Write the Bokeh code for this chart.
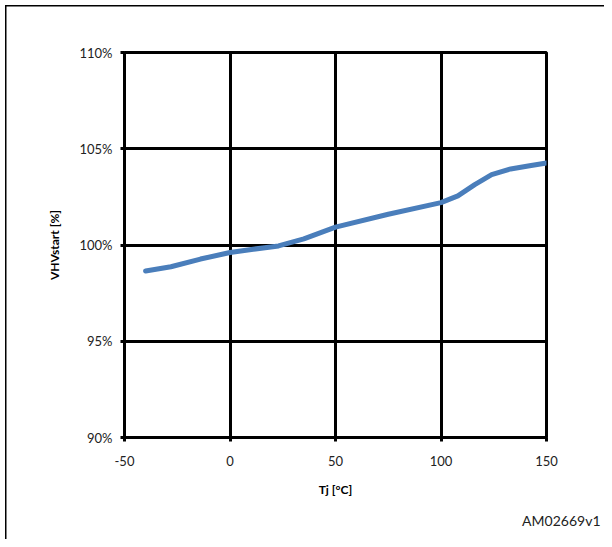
from bokeh.plotting import figure
from bokeh.models import Range1d, FixedTicker, PrintfTickFormatter, Title
from bokeh.embed import file_html
from bokeh.resources import INLINE

# Data
tj = [-40, -28, -14, 0, 11, 23, 35, 50, 75, 100, 108, 116, 124, 133, 142, 150]
vhvstart = [98.65, 98.87, 99.27, 99.61, 99.78, 99.95, 100.32, 100.93, 101.6,
            102.2, 102.55, 103.14, 103.66, 103.95, 104.12, 104.26]
x_ticks = [-50, 0, 50, 100, 150]
y_ticks = [90, 95, 100, 105, 110]

FONT = "Lato"

p = figure(width=604, height=539, output_backend="svg", toolbar_location=None,
           x_range=Range1d(-50, 150), y_range=Range1d(90, 110),
           min_border_left=124, min_border_top=52, min_border_right=58,
           min_border_bottom=102)

# outer frame of the picture (top and left edges visible), drawn behind a transparent border
p.border_fill_color = None
p.background_fill_color = "white"
p.styles = {"background": "linear-gradient(#000,#000) 5px 5px / 1.5px 100% no-repeat, "
                          "linear-gradient(#000,#000) 5px 5px / 100% 1.5px no-repeat, white"}

p.line(tj, vhvstart, line_color="#4A7EBB", line_width=5, line_cap="round",
       line_join="round")

p.outline_line_color = "black"
p.outline_line_width = 3

for g in (p.xgrid, p.ygrid):
    g.grid_line_color = "black"
    g.grid_line_width = 3
p.xgrid.ticker = FixedTicker(ticks=x_ticks)
p.ygrid.ticker = FixedTicker(ticks=y_ticks)

p.xaxis.ticker = FixedTicker(ticks=x_ticks)
p.yaxis.ticker = FixedTicker(ticks=y_ticks)
p.xaxis.formatter = PrintfTickFormatter(format="%d")
p.yaxis.formatter = PrintfTickFormatter(format="%d%%")

for ax in (p.xaxis, p.yaxis):
    ax.axis_line_color = "black"
    ax.axis_line_width = 3
    ax.major_tick_line_color = "black"
    ax.major_tick_line_width = 3
    ax.major_tick_out = 4
    ax.major_tick_in = 0
    ax.minor_tick_line_color = None
    ax.major_label_text_font = FONT
    ax.major_label_text_font_size = "13px"
    ax.major_label_text_color = "#222222"
    ax.axis_label_text_font = FONT
    ax.axis_label_text_font_size = "12px"
    ax.axis_label_text_font_style = "bold"
    ax.axis_label_text_color = "black"

p.xaxis.axis_label = "Tj [°C]"
p.yaxis.axis_label = "VHVstart [%]"
p.xaxis.major_label_standoff = 14
p.yaxis.major_label_standoff = 8
p.xaxis.axis_label_standoff = 13
p.yaxis.axis_label_standoff = 14

p.add_layout(Title(text="AM02669v1", align="right", offset=-54, standoff=21,
                   text_font=FONT, text_font_size="14px",
                   text_font_style="normal", text_color="#222222"), "below")

open("out.html", "w").write(file_html(p, INLINE))
